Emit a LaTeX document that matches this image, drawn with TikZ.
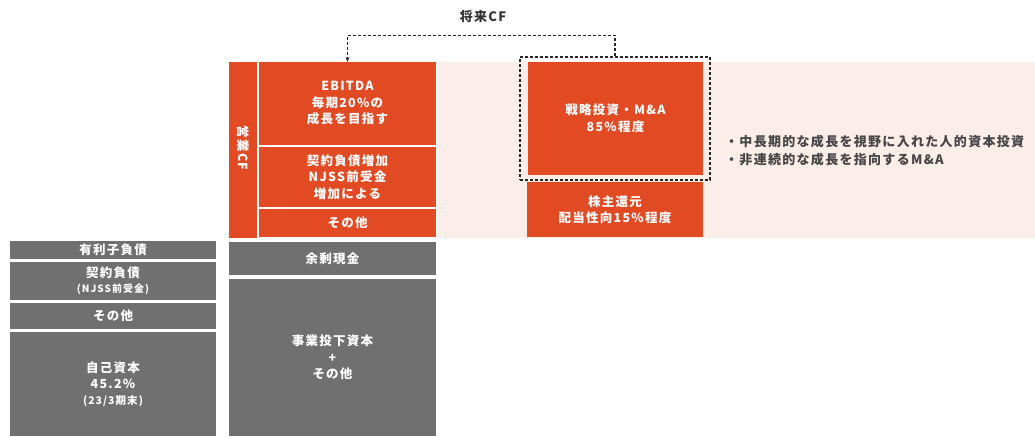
\documentclass[tikz,border=0pt]{standalone}
\usepackage{fontspec}
\setmainfont[LetterSpace=10]{Noto Sans CJK JP}
\usetikzlibrary{arrows.meta}
\definecolor{cred}{RGB}{226,74,36}
\definecolor{cpink}{RGB}{251,237,232}
\definecolor{cgray}{RGB}{112,112,112}
\definecolor{ctext}{RGB}{70,70,70}
\tikzset{
  box/.style={draw=none, inner sep=0pt, text=white, align=center,
    font=\fontsize{12.5}{16.5}\selectfont\bfseries},
  redbox/.style={box, fill=cred},
  graybox/.style={box, fill=cgray},
  link/.style={densely dashed, line width=1.1pt, black!85, -{Stealth[length=5pt,width=4pt]}},
  plain/.style={text=ctext, font=\fontsize{13}{15}\selectfont\bfseries, inner sep=0pt}
}
\begin{document}
\begin{tikzpicture}[x=1pt,y=1pt]
\useasboundingbox (0,0) rectangle (1035,-436);
\fill[white] (0,0) rectangle (1035,-436);
\fill[cpink] (437,-62) rectangle (1035,-238);
% operating CF column
\node[redbox, minimum width=28, minimum height=176] (eicf) at (243,-150) {};
\node[box, rotate=-90] (eicflabel) at (243,-148) {営業CF};
\node[redbox, minimum width=177, minimum height=83] (ebitda) at (347.5,-103.5) {EBITDA\\毎期20\%の\\成長を目指す};
\node[redbox, minimum width=177, minimum height=60] (keiyaku) at (347.5,-177) {契約負債増加\\NJSS前受金\\増加による};
\node[redbox, minimum width=177, minimum height=28] (sonota1) at (347.5,-223) {その他};
% strategic
\node[draw=black!85, densely dashed, line width=1.1pt, minimum width=190, minimum height=123, inner sep=0pt] (dbox) at (615,-118.5) {};
\node[redbox, minimum width=175, minimum height=113] (senryaku) at (615.5,-118.5) {戦略投資・M\&A\\85\%程度};
\node[redbox, minimum width=176, minimum height=55] (kabu) at (615,-209.5) {株主還元\\配当性向15\%程度};
% gray middle
\node[graybox, minimum width=207, minimum height=33] (yojo) at (332.5,-258.5) {余剰現金};
\node[graybox, minimum width=207, minimum height=157] (jigyo) at (332.5,-357.5) {事業投下資本\\+\\その他};
% left column
\node[graybox, minimum width=206, minimum height=18] (yuri) at (113,-250) {有利子負債};
\node[graybox, minimum width=206, minimum height=38, font=\fontsize{12.5}{15}\selectfont\bfseries] (keiyaku2) at (113,-281) {契約負債\\{\fontsize{10}{12}\selectfont (NJSS前受金)}};
\node[graybox, minimum width=206, minimum height=26] (sonota2) at (113,-316) {その他};
\node[graybox, minimum width=206, minimum height=104, font=\fontsize{12.5}{16}\selectfont\bfseries] (jiko) at (113,-384) {自己資本\\45.2\%\\{\fontsize{10.5}{14}\selectfont (23/3期末)}};
% connector
\draw[link] (dbox.north) -- ++(0,21) -| (ebitda.north);
\node[plain, text=black!80] (future) at (483,-17) {将来CF};
% bullets
\node[plain, anchor=west] (b1) at (725,-142) {・中長期的な成長を視野に入れた人的資本投資};
\node[plain, anchor=west] (b2) at (725,-160) {・非連続的な成長を指向するM\&A};
\end{tikzpicture}
\end{document}
